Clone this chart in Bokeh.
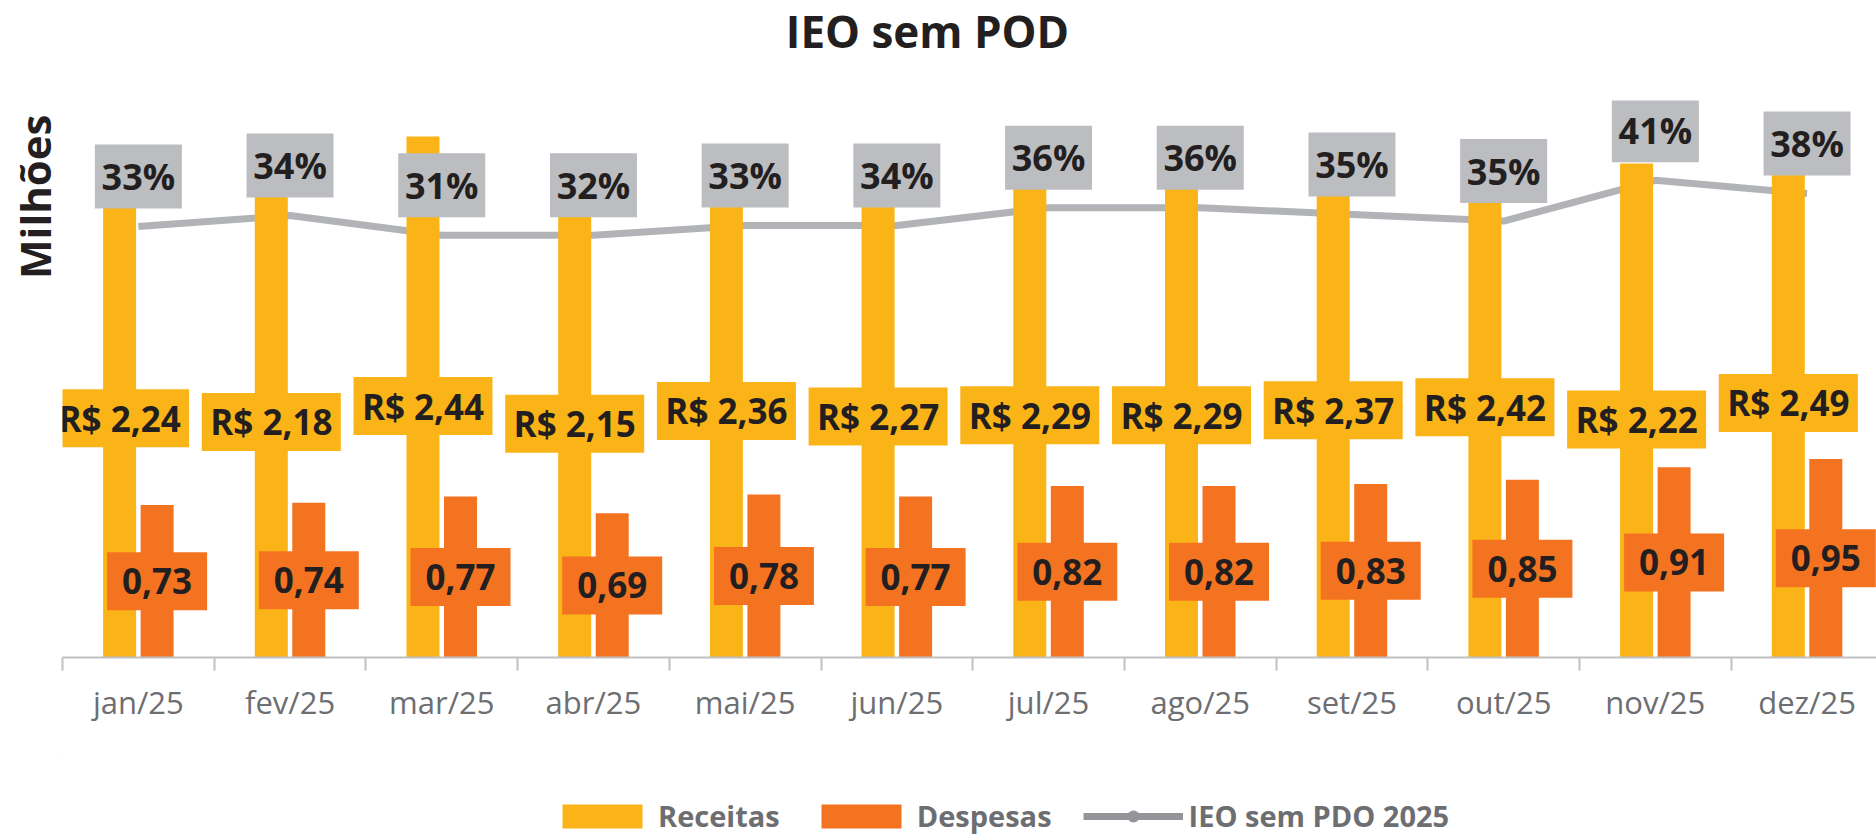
from bokeh.plotting import figure
from bokeh.layouts import column
from bokeh.models import Range1d, FixedTicker, Legend, LegendItem, Title
from bokeh.core.properties import value
from bokeh.embed import file_html
from bokeh.resources import INLINE

# ---------------- data ----------------
meses = ["jan/25", "fev/25", "mar/25", "abr/25", "mai/25", "jun/25",
         "jul/25", "ago/25", "set/25", "out/25", "nov/25", "dez/25"]
receitas = [2.24, 2.18, 2.44, 2.15, 2.36, 2.27, 2.29, 2.29, 2.37, 2.42, 2.22, 2.49]
despesas = [0.73, 0.74, 0.77, 0.69, 0.78, 0.77, 0.82, 0.82, 0.83, 0.85, 0.91, 0.95]
ieo_linha = [0.326, 0.346, 0.310, 0.310, 0.328, 0.328, 0.360, 0.360, 0.348, 0.336, 0.410, 0.386]
ieo_rotulos = [33, 34, 31, 32, 33, 34, 36, 36, 35, 35, 41, 38]
series = ["Receitas", "Despesas", "IEO sem PDO 2025"]
titulo = "IEO sem POD"
eixo_y = "Milhões"

# ---------------- style ----------------
FONT = value("Open Sans")
AMARELO = "#FBB417"
LARANJA = "#F47321"
CINZA_LINHA = "#B2B3B6"
CINZA_LEG = "#949599"
CINZA_ROTULO = "#BCBDC0"
TEXTO = "#231F20"
CINZA_TEXTO = "#6D6E71"

W = 1876
LEFT = 62
FW, FH = W - LEFT, 557
HEAD_H, BOTTOM_B, LEG_H = 100, 100, 78

x_range = Range1d(-0.5, -0.5 + FW / 151.7)
y_desp = Range1d(0, FH / 209.0)
y_rec = Range1d(-1.806, -1.806 + FH / 122.7)
y_ieo = Range1d(-0.457, -0.457 + FH / 550.4)


def ppu(r):
    return FH / (r.end - r.start)


def strip(height):
    # frame is aligned with the main chart's frame (starts at LEFT)
    f = figure(width=W, height=height, x_range=Range1d(LEFT, W), y_range=Range1d(height, 0),
               output_backend="svg", toolbar_location=None,
               min_border_left=LEFT, min_border_right=0, min_border_top=0, min_border_bottom=0)
    try:
        f.title = None
    except Exception:
        f.title.text_font_size = "0px"
        f.title.standoff = 0
    f.outline_line_color = None
    f.axis.visible = False
    f.grid.visible = False
    return f


# ---------------- header with title ----------------
h = strip(HEAD_H)
h.text(x=[927], y=[30], text=[titulo], text_font=FONT, text_font_style="bold",
       text_font_size="44px", text_align="center", text_baseline="alphabetic",
       text_color=TEXTO)

# ---------------- main chart ----------------
p = figure(frame_width=FW, frame_height=FH, x_range=x_range, y_range=y_desp,
           output_backend="svg", toolbar_location=None,
           min_border_left=LEFT, min_border_right=0, min_border_top=0,
           min_border_bottom=BOTTOM_B)
p.extra_y_ranges = {"rec": y_rec, "ieo": y_ieo}
p.outline_line_color = None
p.xgrid.visible = False
p.ygrid.visible = False
p.yaxis.visible = False
try:
    p.title = None
except Exception:
    p.title.visible = False

ylab = Title(text=eixo_y, align="right", offset=14, text_font="Open Sans",
             text_font_size="42px", text_font_style="bold", text_color=TEXTO, standoff=0)
p.add_layout(ylab, "left")

xs = list(range(len(meses)))
BW = 0.2175
OFF = 0.1236
x_rec = [x - OFF for x in xs]
x_desp = [x + OFF for x in xs]

# line
p.line(xs, ieo_linha, line_color=CINZA_LINHA, line_width=7, y_range_name="ieo")

# bars
p.vbar(x=x_rec, width=BW, top=receitas, bottom=y_rec.start, fill_color=AMARELO,
       line_color=None, y_range_name="rec")
p.vbar(x=x_desp, width=BW, top=despesas, bottom=0, fill_color=LARANJA, line_color=None)

# receitas labels
rec_y = [(v + y_rec.start) / 2 - 9 / ppu(y_rec) for v in receitas]
rec_txt = ["R$ " + f"{v:.2f}".replace(".", ",") for v in receitas]
p.rect(x_rec, rec_y, width=139, height=58, width_units="screen", height_units="screen",
       fill_color=AMARELO, line_color=None, y_range_name="rec")
p.text(x_rec, rec_y, text=rec_txt, text_font=FONT, text_font_style="bold",
       text_font_size="35px", text_align="center", text_baseline="middle",
       text_color=TEXTO, y_range_name="rec")

# despesas labels
desp_y = [v / 2 for v in despesas]
desp_txt = [f"{v:.2f}".replace(".", ",") for v in despesas]
p.rect(x_desp, desp_y, width=100, height=58, width_units="screen", height_units="screen",
       fill_color=LARANJA, line_color=None)
p.text(x_desp, desp_y, text=desp_txt, text_font=FONT, text_font_style="bold",
       text_font_size="35px", text_align="center", text_baseline="middle", text_color=TEXTO)

# ieo labels
ieo_y = [v + 50 / ppu(y_ieo) for v in ieo_linha]
ieo_txt = [f"{v}%" for v in ieo_rotulos]
p.rect(xs, ieo_y, width=87, height=64, width_units="screen", height_units="screen",
       fill_color=CINZA_ROTULO, line_color=None, y_range_name="ieo")
p.text(xs, ieo_y, text=ieo_txt, text_font=FONT, text_font_style="bold",
       text_font_size="36px", text_align="center", text_baseline="middle",
       text_color=TEXTO, y_range_name="ieo")

# x axis
ax = p.xaxis[0]
ax.ticker = FixedTicker(ticks=xs, minor_ticks=[x - 0.5 for x in range(len(meses) + 1)])
ax.major_label_overrides = {i: m for i, m in enumerate(meses)}
ax.major_label_text_font = "Open Sans"
ax.major_label_text_font_size = "31px"
ax.major_label_text_color = CINZA_TEXTO
ax.major_label_standoff = 10
ax.axis_line_color = "#C0C0C0"
ax.axis_line_width = 2
ax.major_tick_line_color = None
ax.minor_tick_line_color = "#C0C0C0"
ax.minor_tick_line_width = 2
ax.minor_tick_out = 13
ax.minor_tick_in = 0

# ---------------- legend strip ----------------
q = strip(LEG_H)
r1 = q.vbar(x=[-100], width=10, top=[-100], bottom=[-110], fill_color=AMARELO, line_color=None)
r2 = q.vbar(x=[-100], width=10, top=[-100], bottom=[-110], fill_color=LARANJA, line_color=None)
r3 = q.line(x=[-120, -100], y=[-100, -100], line_color=CINZA_LEG, line_width=7)
r4 = q.scatter(x=[-100], y=[-100], size=22, marker="circle", fill_color=CINZA_LEG,
               line_color=None)
legend = Legend(items=[LegendItem(label=series[0], renderers=[r1]),
                       LegendItem(label=series[1], renderers=[r2]),
                       LegendItem(label=series[2], renderers=[r3, r4])],
                orientation="horizontal", location=(552 - LEFT, 0),
                glyph_width=100, glyph_height=30, label_standoff=6, spacing=31,
                padding=0, margin=0, border_line_color=None, background_fill_alpha=0,
                label_text_font="Open Sans", label_text_font_size="29px",
                label_text_font_style="bold", label_text_color=CINZA_TEXTO)
q.add_layout(legend)

layout = column(h, p, q, spacing=0)
open("out.html", "w").write(file_html(layout, INLINE))
